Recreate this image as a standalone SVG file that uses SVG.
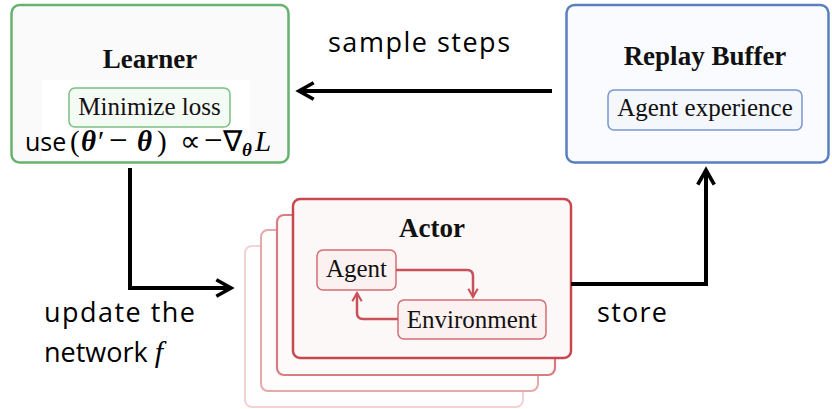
<svg xmlns="http://www.w3.org/2000/svg" width="832" height="409" viewBox="0 0 832 409">
<defs>
<style>
.title{font-family:"Liberation Serif",serif;font-weight:bold;font-size:27px;fill:#111;text-anchor:middle}
.inner{font-family:"Liberation Serif",serif;font-size:25px;fill:#111;text-anchor:middle}
.lbl{font-family:"Open Sans",sans-serif;font-size:27px;fill:#000}
.conn{fill:none;stroke:#000;stroke-width:4;stroke-linejoin:miter}
.rconn{fill:none;stroke:#c9525a;stroke-width:2.5;stroke-linejoin:round}
.m{font-family:"Liberation Serif",serif}
.b{font-family:"Liberation Serif",serif;font-weight:bold;font-style:italic}
</style>
<marker id="ah" viewBox="0 0 12 12" refX="10" refY="6" markerWidth="5.5" markerHeight="5.5" markerUnits="strokeWidth" orient="auto">
<path d="M2,1.5 L10,6 L2,10.5" fill="none" stroke="#000" stroke-width="2"/>
</marker>
<marker id="rah" viewBox="0 0 12 12" refX="10" refY="6" markerWidth="5" markerHeight="5" markerUnits="strokeWidth" orient="auto">
<path d="M2,1.5 L10,6 L2,10.5" fill="none" stroke="#c9525a" stroke-width="2"/>
</marker>
</defs>
<rect width="832" height="409" fill="#fff"/>

<g id="learner">
<rect x="11.5" y="5" width="277" height="157.5" rx="8" fill="#fafafa" stroke="#67b26f" stroke-width="2.5"/>
<rect x="42" y="80" width="208" height="80" fill="#fff"/>
<text class="title" x="150" y="68">Learner</text>
<rect x="69" y="88" width="161" height="39" rx="6" fill="#f4faf4" stroke="#7bbf82" stroke-width="1.5"/>
<text class="inner" x="149.5" y="115">Minimize loss</text>
<text y="151" font-size="29" fill="#000"><tspan x="25" font-family="'Open Sans',sans-serif" font-size="25">use</tspan><tspan class="m" x="70">(</tspan><tspan class="b" x="81">θ</tspan><tspan class="m" x="98">′</tspan><tspan class="m" x="109" font-size="33">−</tspan><tspan class="b" x="137">θ</tspan><tspan class="m" x="157">)</tspan><tspan class="m" x="180">∝</tspan><tspan class="m" x="204" font-size="33">−</tspan><tspan class="m" x="223">∇</tspan><tspan class="b" font-size="19" x="242" dy="5">θ</tspan><tspan class="m" font-style="italic" x="255" dy="-5">L</tspan></text>
</g>

<g id="replay-buffer">
<rect x="566.5" y="5" width="262" height="157.5" rx="8" fill="#f9fbfe" stroke="#5a7fc0" stroke-width="2.5"/>
<text class="title" x="705" y="65">Replay Buffer</text>
<rect x="608" y="90" width="194" height="40" rx="6" fill="#f4f7fc" stroke="#7896cc" stroke-width="1.5"/>
<text class="inner" x="705" y="116">Agent experience</text>
</g>

<g id="actor">
<rect x="245" y="246" width="278" height="161" rx="7" fill="#fffefe" stroke="#f2d3d4" stroke-width="2"/>
<rect x="261" y="230" width="277" height="161" rx="7" fill="#fffcfc" stroke="#e6a9ab" stroke-width="2"/>
<rect x="277" y="215" width="278" height="160" rx="7" fill="#fefafa" stroke="#d77c80" stroke-width="2.2"/>
<rect x="293" y="199" width="278" height="159" rx="7" fill="#fdf8f8" stroke="#c8474f" stroke-width="2.5"/>
<text class="title" x="432" y="237">Actor</text>
<g id="agent">
<rect x="317" y="250" width="79" height="40" rx="6" fill="#fcf1f1" stroke="#d46d73" stroke-width="1.5"/>
<text class="inner" x="356.5" y="277">Agent</text>
</g>
<g id="environment">
<rect x="398" y="300" width="148" height="39" rx="6" fill="#fcf1f1" stroke="#d46d73" stroke-width="1.5"/>
<text class="inner" x="472" y="328">Environment</text>
</g>
</g>

<g id="connectors">
<path class="conn" d="M552,91 H299" marker-end="url(#ah)"/>
<path class="conn" d="M130,168 V288 H231" marker-end="url(#ah)"/>
<path class="conn" d="M571,284 H706 V170" marker-end="url(#ah)"/>
<path class="rconn" d="M396,270 H467 Q473,270 473,276 V297" marker-end="url(#rah)"/>
<path class="rconn" d="M398,319 H363 Q357,319 357,313 V293" marker-end="url(#rah)"/>
</g>

<g id="labels">
<text class="lbl" x="328" y="52" textLength="182">sample steps</text>
<text class="lbl" x="44" y="322" textLength="151">update the</text>
<text class="lbl" x="44" y="362">network <tspan font-family="'Liberation Serif',serif" font-style="italic" font-size="30">f</tspan></text>
<text class="lbl" x="597" y="322" textLength="70">store</text>
</g>
</svg>
